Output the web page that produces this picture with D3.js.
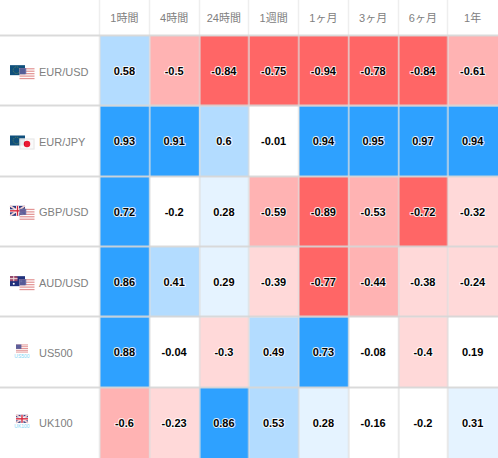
<!DOCTYPE html>
<html><head><meta charset="utf-8">
<script src="https://cdn.jsdelivr.net/npm/d3@7"></script>
<style>html,body{margin:0;padding:0;background:#fff}svg{display:block}</style>
</head><body><div id="c"></div>
<script>
const periods = ["1時間","4時間","24時間","1週間","1ヶ月","3ヶ月","6ヶ月","1年"];
const instruments = ["EUR/USD","EUR/JPY","GBP/USD","AUD/USD","US500","UK100"];
const rowEurUsd = [0.58,-0.5,-0.84,-0.75,-0.94,-0.78,-0.84,-0.61];
const rowEurJpy = [0.93,0.91,0.6,-0.01,0.94,0.95,0.97,0.94];
const rowGbpUsd = [0.72,-0.2,0.28,-0.59,-0.89,-0.53,-0.72,-0.32];
const rowAudUsd = [0.86,0.41,0.29,-0.39,-0.77,-0.44,-0.38,-0.24];
const rowUs500 = [0.88,-0.04,-0.3,0.49,0.73,-0.08,-0.4,0.19];
const rowUk100 = [-0.6,-0.23,0.86,0.53,0.28,-0.16,-0.2,0.31];
const rows = [rowEurUsd,rowEurJpy,rowGbpUsd,rowAudUsd,rowUs500,rowUk100];
const bucketEdges = [-0.7,-0.4,-0.2,0.2,0.4,0.7];
const bucketColors = ["#ff6666","#ffb3b3","#ffd9d9","#ffffff","#e5f3ff","#b3dcff","#2ea1ff"];
const flagPairs = [["eu","us"],["eu","jp"],["uk","us"],["au","us"],["us"],["uk"]];

const W=498,H=458;
const svg=d3.select("#c").append("svg").attr("width",W).attr("height",H);
const x=d3.scaleBand().domain(periods).range([100,498]);
const y=d3.scaleBand().domain(instruments).range([36,458]);
const color=d3.scaleThreshold().domain(bucketEdges).range(bucketColors);

// header
svg.append("g").selectAll("text").data(periods).join("text")
  .attr("x",d=>x(d)+x.bandwidth()/2-0.5).attr("y",18).attr("dy","0.35em")
  .attr("text-anchor","middle").attr("fill","#808080")
  .attr("font-family","'Liberation Sans','Noto Sans CJK JP',sans-serif").attr("font-size",11)
  .text(d=>d);

// cells
const cells=rows.flatMap((r,i)=>r.map((v,j)=>({v,row:instruments[i],col:periods[j]})));
svg.append("g").selectAll("rect").data(cells).join("rect")
  .attr("x",d=>x(d.col)).attr("y",d=>y(d.row))
  .attr("width",x.bandwidth()).attr("height",y.bandwidth())
  .attr("fill",d=>color(d.v));

// grid
const grid=svg.append("g");
periods.forEach(p=>{
  const px=Math.round(x(p))-0.25;
  grid.append("line").attr("x1",px-0.25).attr("x2",px-0.25).attr("y1",0).attr("y2",35).attr("stroke","#eeeeee").attr("stroke-width",1.5);
  grid.append("line").attr("x1",px).attr("x2",px).attr("y1",36).attr("y2",H).attr("stroke","#dddddd").attr("stroke-width",2).attr("stroke-opacity",0.65);
});
instruments.forEach(r=>{
  const py=Math.round(y(r))-0.5;
  grid.append("line").attr("x1",0).attr("x2",W).attr("y1",py).attr("y2",py).attr("stroke","#d6d6d6").attr("stroke-width",1.8).attr("stroke-opacity",0.9);
});

// values
svg.append("g").selectAll("text").data(cells).join("text")
  .attr("x",d=>x(d.col)+x.bandwidth()/2-0.5).attr("y",d=>y(d.row)+y.bandwidth()/2)
  .attr("dy","0.35em").attr("text-anchor","middle")
  .attr("font-family","'Liberation Sans',sans-serif").attr("font-size",11).attr("font-weight",700)
  .attr("fill","#000").attr("stroke","#fff").attr("stroke-width",2).attr("stroke-linejoin","round")
  .attr("stroke-opacity",0.85).attr("paint-order","stroke")
  .text(d=>d.v);

// row labels
svg.append("g").selectAll("text").data(instruments).join("text")
  .attr("x",39).attr("y",d=>y(d)+y.bandwidth()/2+0.5).attr("dy","0.35em")
  .attr("fill","#808080").attr("font-family","'Liberation Sans',sans-serif").attr("font-size",11)
  .text(d=>d);

// flags
function flag(g,kind,fx,fy,fw,fh,op){
  const f=g.append("g").attr("opacity",op);
  const r=(a,b,c,d,col)=>f.append("rect").attr("x",fx+a).attr("y",fy+b).attr("width",c).attr("height",d).attr("fill",col);
  if(kind==="eu"){
    r(0,0,fw,fh,"#0f4f7c");
    f.append("circle").attr("cx",fx+fw/2-1).attr("cy",fy+fh/2).attr("r",fh/3).attr("fill","none").attr("stroke","#7f9a4a").attr("stroke-width",0.7).attr("stroke-dasharray","1 1");
  } else if(kind==="us"){
    r(0,0,fw,fh,"#fff");
    for(let i=0;i<5;i++) r(0,i*fh/4.5,fw,fh/9,"#e08a8a");
    r(0,0,fw*0.45,fh*0.55,"#5d5f9a");
  } else if(kind==="jp"){
    r(0,0,fw,fh,"#fafafa");
    f.append("rect").attr("x",fx+.5).attr("y",fy+.5).attr("width",fw-1).attr("height",fh-1).attr("fill","none").attr("stroke","#e4e4e4");
    f.append("circle").attr("cx",fx+fw/2).attr("cy",fy+fh/2).attr("r",fh/3.4).attr("fill","#e8001c");
  } else if(kind==="uk"){
    r(0,0,fw,fh,"#2a3a80");
    f.append("path").attr("d",`M${fx},${fy}L${fx+fw},${fy+fh}M${fx+fw},${fy}L${fx},${fy+fh}`).attr("stroke","#f3d0d0").attr("stroke-width",1.8);
    r(0,fh/2-1.5,fw,3,"#fff"); r(fw/2-1.5,0,3,fh,"#fff");
    r(0,fh/2-.7,fw,1.4,"#d8283c"); r(fw/2-.7,0,1.4,fh,"#d8283c");
  } else if(kind==="au"){
    r(0,0,fw,fh,"#20307c");
    r(0,0,fw/2,fh/2,"#a04a6a");
    r(0,fh/4-.5,fw/2,1,"#f4e0e0"); r(fw/4-.5,0,1,fh/2,"#f4e0e0");
    f.append("circle").attr("cx",fx+fw/4).attr("cy",fy+fh*.75).attr("r",1).attr("fill","#fff");
    f.append("circle").attr("cx",fx+fw*.75).attr("cy",fy+fh*.5).attr("r",1).attr("fill","#fff");
  }
}
instruments.forEach((name,i)=>{
  const g=svg.append("g");
  const cy=y(name)+y.bandwidth()/2;
  const pair=flagPairs[i];
  if(pair.length===2){
    flag(g,pair[0],10,cy-6,15,10,1);
    flag(g,pair[1],19.5,cy-3,15,11,0.9);
  } else {
    flag(g,pair[0],16,cy-8,12,8,1);
    g.append("text").attr("x",22).attr("y",cy+5).attr("text-anchor","middle")
      .attr("font-family","'Liberation Sans',sans-serif").attr("font-size",5)
      .attr("fill","#7fd6f5").text(name);
  }
});
</script></body></html>
